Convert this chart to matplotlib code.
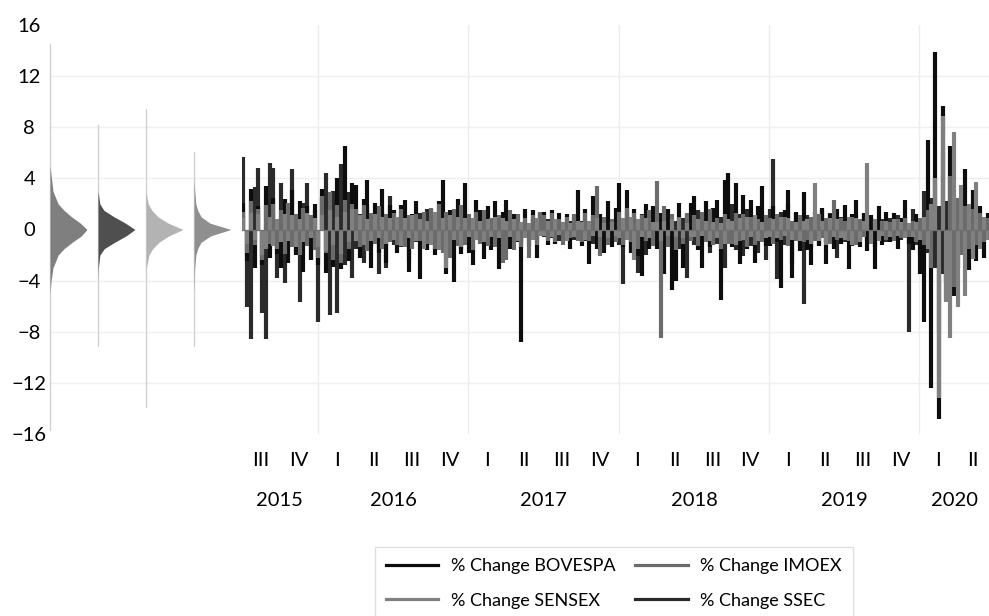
import matplotlib.pyplot as plt
import matplotlib.transforms as mtransforms
import matplotlib.dates as mdates
from matplotlib.lines import Line2D
import numpy as np
import pandas as pd

plt.rcParams['font.family'] = ['Lato', 'DejaVu Sans']

# daily % change, sampled ~ every 9 calendar days (10 values per quarter)
# Q3 2015 .. Q2 2020 (last quarter partial, 9 values)
bovespa = [
    2.1, -2.5, 3.2, -3.0, 1.8, -2.8, 3.4, -2.2, 2.5, -1.9,
    -3.0, 2.4, -2.6, 3.1, -2.0, 2.2, -3.3, 1.8, -2.4, 2.0,
    -2.8, 3.2, -3.4, 2.6, -2.9, 4.0, -3.1, 6.5, -2.5, 3.6,
    3.5, -2.2, 2.4, 3.9, -3.0, 2.1, -1.8, 3.2, -2.6, 1.9,
    1.5, -1.8, 1.9, 2.3, -3.3, 1.2, 2.2, -3.9, 1.4, -1.6,
    1.6, -2.0, 2.2, 3.9, -3.5, 1.5, -4.1, 2.4, -1.9, 3.6,
    -1.8, -2.8, 2.3, 1.5, -2.3, 1.8, -1.6, 2.2, -3.1, 1.4,
    2.3, -1.5, 1.2, -1.0, -8.8, 1.6, -1.3, 1.5, -2.2, 1.3,
    1.4, -1.2, 1.5, -1.1, 1.3, -0.9, 1.2, -1.5, 1.0, 3.1,
    -1.3, 1.6, -2.7, 2.6, -1.5, 1.2, -1.8, 2.2, -1.4, 1.7,
    3.6, -1.4, 3.1, -1.8, 1.6, -2.1, -3.6, 2.0, -1.5, 1.8,
    -1.5, 1.3, -3.5, 1.6, -4.7, -4.0, 2.1, -3.0, 1.2, 2.1,
    2.6, -1.6, -3.0, 2.2, -1.4, 1.7, 2.3, -5.5, 3.9, 4.4,
    -1.4, 3.6, -2.7, 2.7, -1.5, 2.3, -2.6, 1.8, 3.4, -1.3,
    -1.3, 1.8, -1.0, -4.6, 1.5, 3.1, -3.8, 1.4, -1.7, 2.9,
    -1.6, -2.8, 1.4, -1.3, 1.7, -2.7, 1.2, -1.5, 1.6, -1.1,
    1.9, -3.1, 1.2, 2.3, -1.4, 1.3, -1.7, 1.1, -3.1, 1.8,
    -1.2, 1.4, -1.0, 1.3, -1.5, 0.9, 2.3, -1.1, -1.6, 1.2,
    -3.5, -7.2, 7.0, -12.4, 13.9, -14.8, 9.7, -4.0, 6.5, -5.2,
    -3.0, 2.5, 4.7, -3.2, 3.1, -2.5, 1.8, -2.2, 1.3,
]
imoex = [
    1.4, -1.8, 2.2, -1.2, 1.6, -2.4, 1.9, -1.1, 2.0, -1.5,
    1.5, -1.9, 2.1, -1.4, 1.2, -2.0, 1.7, -1.3, 1.1, -1.6,
    -2.2, 2.6, -1.8, 2.9, -2.4, 1.9, -2.6, 2.3, -1.5, 2.0,
    1.6, -1.4, 1.9, -1.7, 1.3, -1.1, 1.8, -1.5, 1.2, -1.0,
    1.3, -1.2, 1.6, -1.4, 1.1, -1.5, 1.2, -0.9, 1.4, -1.1,
    1.7, -1.5, 2.0, -1.8, 1.4, -2.2, 1.6, -1.3, 1.9, -1.2,
    1.2, -1.6, 1.4, -1.1, 1.5, -1.3, 0.9, -1.4, 1.1, -2.6,
    -2.4, 1.5, -1.6, 1.2, -1.4, 0.9, -2.2, 1.1, -1.2, 1.4,
    1.1, -0.9, 1.3, -1.0, 0.8, -1.2, 1.0, -0.7, 1.2, -0.9,
    -1.0, 1.3, -0.9, 1.1, 3.4, -2.1, 1.0, -1.2, 0.8, -1.0,
    1.4, -1.2, 1.7, -1.0, 1.3, -1.5, 1.1, -0.9, 1.5, -1.3,
    3.8, -8.5, 1.8, -1.4, 1.2, -1.6, 1.0, -1.1, 1.3, -0.9,
    1.1, -1.3, 1.4, -1.0, 1.6, -1.2, 0.9, -1.5, 1.2, -1.1,
    -1.1, 1.3, -0.9, 1.2, -1.4, 1.0, -1.2, 0.8, -1.0, 1.1,
    0.9, -1.1, 1.2, -0.8, 1.0, -1.3, 0.7, -0.9, 1.1, -1.0,
    -0.8, 1.0, -0.9, 1.2, -0.7, 0.9, -1.1, 2.3, -0.8, 0.9,
    0.7, -0.9, 1.0, -1.2, 0.8, -0.6, 0.9, -1.0, 0.7, -0.8,
    0.7, -0.8, 0.6, -0.9, 0.8, -0.7, 0.9, -0.6, 0.7, -1.0,
    0.9, -1.2, 1.5, -3.0, 4.0, -8.0, 6.0, -5.5, 4.2, -4.5,
    2.5, -2.0, 1.8, -1.5, 1.6, -1.2, 1.3, -1.0, 0.9,
]
sensex = [
    0.9, -1.1, 1.3, -0.8, 1.2, -2.0, -1.5, 1.0, -1.3, 0.8,
    -1.0, 1.2, -0.9, 1.1, -1.4, 0.8, -1.0, 1.3, -0.7, 0.9,
    -1.4, 1.1, -1.7, 1.5, -1.2, 1.0, -1.9, 1.4, -1.0, 1.6,
    -0.9, 1.1, -1.2, 0.8, -0.9, 1.2, -0.7, 1.0, -1.1, 0.9,
    -0.8, 1.0, -1.3, 0.9, -0.7, 1.1, -0.9, 0.8, -1.5, 0.7,
    -1.2, 1.4, -1.6, 0.9, -3.0, 1.1, -0.8, 1.0, -1.4, 0.9,
    -0.6, 0.9, -0.8, 0.7, -1.0, 0.8, -0.6, 1.0, -0.7, 0.9,
    0.7, -0.6, 0.8, -0.9, 0.6, -0.7, 0.5, -0.8, 0.9, -0.5,
    -0.5, 0.7, -0.6, 0.8, -0.4, 0.6, -0.9, 0.5, -0.6, 0.7,
    0.6, -0.8, 0.7, -0.5, 0.9, -0.6, 0.5, -0.7, 0.6, -0.5,
    -0.7, 0.9, -0.8, 1.0, -2.4, 0.8, -0.6, 0.9, -0.7, 0.6,
    0.6, -0.9, 0.7, -0.5, 0.8, -0.6, 0.9, -0.7, 0.5, -0.6,
    -0.6, 0.8, -0.5, 0.7, -0.9, 0.6, -0.7, 0.5, -1.1, 0.8,
    0.7, -1.2, 0.9, -0.8, 1.0, -0.6, 1.1, -0.9, 0.6, -0.7,
    -0.6, 0.8, -0.7, 1.0, -0.5, 0.9, -0.8, 0.6, -0.9, 0.7,
    0.8, -1.1, 3.6, -0.9, 0.7, -1.2, 0.9, -0.6, 0.8, -0.7,
    -0.8, 1.0, -1.2, 0.9, -1.0, 0.7, 5.2, -1.1, 0.8, -0.9,
    -0.5, 0.7, -0.6, 0.8, -0.5, 0.6, -0.7, 0.5, -0.6, 0.6,
    -0.8, 1.0, -1.5, 2.0, 4.0, -13.2, 8.9, -5.7, -8.5, 7.6,
    -6.1, 3.5, -5.2, 2.0, -2.3, 3.7, -1.5, 1.0, -0.8,
]
ssec = [
    5.7, -6.1, -8.6, 3.3, 4.8, -6.5, -8.6, 5.2, 4.8, -3.8,
    3.6, -4.2, 2.0, 4.7, -1.8, -5.7, 2.1, 3.6, -2.3, 1.5,
    -7.2, 2.5, 4.4, -6.7, 3.0, -6.5, 5.1, -2.8, 2.9, -3.8,
    -1.5, 1.2, -2.6, 1.8, -1.3, 1.0, -3.5, 1.4, -3.0, 2.6,
    -1.2, 0.9, -1.4, 1.1, -2.5, 0.8, -1.0, 1.3, -0.9, 1.6,
    -1.0, 1.2, -0.9, 1.4, -1.3, 0.8, -1.1, 0.9, -1.5, 1.0,
    0.8, -0.7, 1.0, -0.9, 0.6, -0.8, 0.9, -0.5, 0.7, -0.6,
    -0.9, 0.7, -0.8, 0.6, -1.0, 0.5, -0.7, 0.8, -0.6, 0.9,
    -0.6, 0.8, -0.7, 0.5, -0.9, 0.6, -0.5, 0.7, -0.8, 0.6,
    0.7, -0.9, 0.6, -1.1, 0.8, -0.7, 0.5, -0.9, 0.6, -0.8,
    -1.2, -4.3, 1.4, -1.6, 1.0, -3.4, 1.2, -2.0, 0.9, -1.1,
    -1.0, 0.8, -1.3, 1.1, -0.9, 0.7, -1.5, 0.9, -3.8, 1.0,
    -1.2, 1.5, -0.9, 1.2, -1.8, 0.8, -1.1, 1.0, -3.0, 1.4,
    2.0, -1.6, 1.2, -2.1, 1.6, -1.3, 1.0, -1.8, 1.3, -2.4,
    1.6, 5.5, -3.9, 1.4, -1.2, 2.0, -2.7, 1.3, -1.0, -5.8,
    1.1, -1.4, 0.9, -1.2, 1.5, -1.0, 1.3, -0.9, -2.2, 1.0,
    -1.0, 0.9, -1.3, 1.1, -0.8, 1.2, -0.9, 1.0, -1.4, 0.8,
    0.8, -1.0, 0.9, -0.7, 1.1, -0.8, 1.0, -8.0, 1.6, -1.2,
    -2.0, 3.0, -1.8, 2.5, -3.0, 1.8, -3.5, 2.2, -2.6, 1.4,
    -1.2, 1.0, -0.9, 1.3, -0.8, 0.7, -1.0, 0.6, -0.5,
]

# distribution shapes (relative half-width at each level) for the 4 violins
dens_y = [-5, -4, -3, -2, -1.5, -1, -0.5, 0, 0.5, 1, 1.5, 2, 3, 4, 5]
dens_bovespa = [0.0, 0.03, 0.08, 0.22, 0.38, 0.6, 0.85, 1.0, 0.82, 0.58, 0.38, 0.22, 0.08, 0.04, 0.0]
dens_imoex = [0.0, 0.0, 0.01, 0.05, 0.17, 0.45, 0.76, 1.0, 0.74, 0.43, 0.16, 0.05, 0.0, 0.0, 0.0]
dens_sensex = [0.0, 0.0, 0.01, 0.08, 0.18, 0.35, 0.62, 1.0, 0.6, 0.32, 0.16, 0.06, 0.0, 0.0, 0.0]
dens_ssec = [0.0, 0.01, 0.02, 0.05, 0.1, 0.19, 0.45, 1.0, 0.43, 0.19, 0.1, 0.05, 0.02, 0.0, 0.0]
violin_lo = [-15.7, -9.1, -13.9, -9.1]
violin_hi = [14.5, 8.2, 9.4, 6.1]

labels = ['% Change BOVESPA', '% Change IMOEX', '% Change SENSEX', '% Change SSEC']
colors = ['#0d0d0d', '#6b6b6b', '#808080', '#2a2a2a']
violin_colors = ['#7f7f7f', '#4f4f4f', '#b3b3b3', '#8f8f8f']

W, H = 989, 616
fig = plt.figure(figsize=(W / 100, H / 100), dpi=100)


def box(x0, y0, x1, y1):
    return [x0 / W, 1 - y1 / H, (x1 - x0) / W, (y1 - y0) / H]


axv = fig.add_axes(box(50, 25, 242, 434))
axt = fig.add_axes(box(242, 25, 989, 434))

x0 = pd.Timestamp('2015-07-01')
x1 = pd.Timestamp('2020-06-18')

for ax in (axv, axt):
    ax.set_ylim(-16, 16)
    for s in ax.spines.values():
        s.set_visible(False)
    for v in [-12, -8, -4, 4, 8, 12]:
        ax.axhline(v, color='#efefef', lw=1, zorder=0)

# violins
axv.set_xlim(0, 4)
axv.set_xticks([])
axv.set_yticks(range(-16, 17, 4))
axv.tick_params(axis='y', length=0, pad=15, labelsize=14.5)
for t in axv.get_yticklabels():
    t.set_horizontalalignment('center')
dens_all = [dens_bovespa, dens_imoex, dens_sensex, dens_ssec]
for i, d in enumerate(dens_all):
    axv.plot([i, i], [violin_lo[i], violin_hi[i]], color='#d2d2d2', lw=1,
             clip_on=False, zorder=1)
    axv.fill_betweenx(dens_y, i, i + np.array(d) * 0.77, color=violin_colors[i],
                      lw=0, zorder=2)

# time series, drawn as spikes from zero
series = [bovespa, imoex, sensex, ssec]
order = [3, 0, 1, 2]
for z, k in enumerate(order):
    vals = series[k]
    dates = pd.date_range('2015-07-04', '2020-06-15', periods=len(vals))
    axt.vlines(dates, 0, vals, color=colors[k], lw=3.0, zorder=2 + z)
axt.axhline(0, color='#707070', lw=0.9, zorder=10)
axt.set_xlim(x0, x1)
axt.set_xticks([])
axt.set_yticks([])
for yr in range(2016, 2021):
    axt.axvline(pd.Timestamp(f'{yr}-01-01'), color='#ececec', lw=1, zorder=0)

# quarter / year category labels
trans = mtransforms.blended_transform_factory(axt.transData, fig.transFigure)
roman = ['I', 'II', 'III', 'IV']
for qs in pd.date_range('2015-07-01', '2020-04-01', freq='QS'):
    qe = min(qs + pd.DateOffset(months=3), x1)
    mid = qs + (qe - qs) / 2
    axt.text(mdates.date2num(mid), 1 - 461 / H, roman[(qs.month - 1) // 3],
             transform=trans, ha='center', va='center', fontsize=14.5)
for yr in range(2015, 2021):
    s = max(pd.Timestamp(f'{yr}-01-01'), x0)
    e = min(pd.Timestamp(f'{yr + 1}-01-01'), x1)
    mid = s + (e - s) / 2
    axt.text(mdates.date2num(mid), 1 - 500 / H, str(yr),
             transform=trans, ha='center', va='center', fontsize=14.5)

handles = [Line2D([], [], color=colors[k], lw=2.3, label=labels[k]) for k in (0, 2, 1, 3)]
fig.legend(handles=handles, ncol=2, loc='upper left',
           bbox_to_anchor=(375 / W, 1 - 547 / H), frameon=True, fancybox=False,
           edgecolor='#d9d9d9', fontsize=13, handlelength=2.9,
           handletextpad=0.7, columnspacing=1.1, labelspacing=1.05,
           borderpad=0.6, borderaxespad=0)

plt.savefig('out.png', dpi=100)
